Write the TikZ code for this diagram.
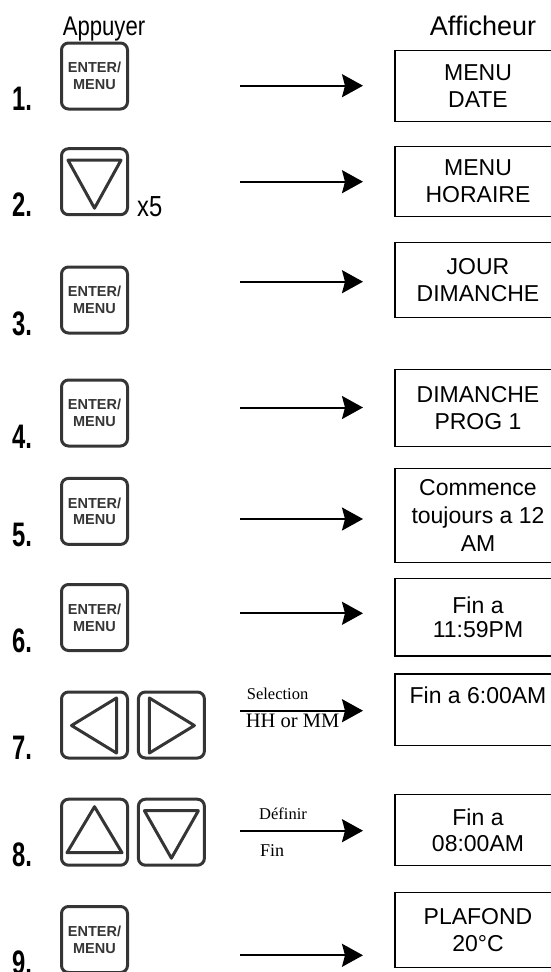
\documentclass[tikz,border=0pt]{standalone}
\usepackage{fontspec}
\setmainfont{Liberation Sans}
\newfontfamily\tms{Liberation Serif}
\usetikzlibrary{arrows.meta,calc}
\definecolor{btngray}{HTML}{353535}
\begin{document}
\begin{tikzpicture}[x=1pt,y=-1pt,
  btn/.style={draw=btngray, line width=3pt, rounded corners=7pt, minimum width=66pt, minimum height=66pt, inner sep=0pt},
  entertxt/.style={font=\fontsize{14.5}{16.7}\selectfont\bfseries, text=btngray, align=center},
  tri/.style={draw=btngray, line width=3pt, line join=round},
  disp/.style={draw=black, line width=1.3pt, minimum width=166pt, inner sep=0pt, align=center, font=\fontsize{23}{26.5}\selectfont},
  num/.style={anchor=base west, inner sep=0pt, font=\fontsize{34}{34}\selectfont\bfseries},
  arr/.style={line width=2pt, -{Stealth[length=21pt,width=23pt,inset=3pt]}},
  lbl/.style={anchor=base west, inner sep=0pt},
]
\useasboundingbox (0,0) rectangle (551,972);

% headers
\node[anchor=base, inner sep=0pt, font=\fontsize{27}{27}\selectfont] (happ) at (104,35) {\scalebox{0.82}[1]{Appuyer}};
\node[anchor=base, inner sep=0pt, font=\fontsize{27}{27}\selectfont] (haff) at (483,35) {Afficheur};

% step numbers
\node[num] (n1) at (12,110) {\scalebox{0.7}[1]{1.}};
\node[num] (n2) at (12,216.7) {\scalebox{0.7}[1]{2.}};
\node[num] (n3) at (12,335.4) {\scalebox{0.7}[1]{3.}};
\node[num] (n4) at (12,448) {\scalebox{0.7}[1]{4.}};
\node[num] (n5) at (12,546) {\scalebox{0.7}[1]{5.}};
\node[num] (n6) at (12,652) {\scalebox{0.7}[1]{6.}};
\node[num] (n7) at (12,759.3) {\scalebox{0.7}[1]{7.}};
\node[num] (n8) at (12,866.7) {\scalebox{0.7}[1]{8.}};
\node[num] (n9) at (12,974) {\scalebox{0.7}[1]{9.}};

% buttons
\node[btn, entertxt] (b1) at (94.5,76) {ENTER/\\MENU};
\node[btn] (b2) at (94.5,181.7) {};
\draw[tri] ($(b2.center)+(-26.5,-21.5)$) -- ($(b2.center)+(26.5,-21.5)$) -- ($(b2.center)+(0,26.5)$) -- cycle;
\node[lbl, font=\fontsize{29}{29}\selectfont] (x5) at (137,216.7) {\scalebox{0.82}[1]{x5}};
\node[btn, entertxt] (b3) at (94.5,300) {ENTER/\\MENU};
\node[btn, entertxt] (b4) at (94.5,413) {ENTER/\\MENU};
\node[btn, entertxt] (b5) at (94.5,511.4) {ENTER/\\MENU};
\node[btn, entertxt] (b6) at (94.5,617.5) {ENTER/\\MENU};
\node[btn] (b7l) at (94.5,725) {};
\draw[tri] ($(b7l.center)+(-23,0.5)$) -- ($(b7l.center)+(22,-27)$) -- ($(b7l.center)+(22,28)$) -- cycle;
\node[btn] (b7r) at (171.4,725) {};
\draw[tri] ($(b7r.center)+(-22,-27)$) -- ($(b7r.center)+(-22,28)$) -- ($(b7r.center)+(23,0.5)$) -- cycle;
\node[btn] (b8l) at (94.5,832.2) {};
\draw[tri] ($(b8l.center)+(0,-25.5)$) -- ($(b8l.center)+(-27.5,20.5)$) -- ($(b8l.center)+(27.5,20.5)$) -- cycle;
\node[btn] (b8r) at (171.4,832.2) {};
\draw[tri] ($(b8r.center)+(-27,-21.5)$) -- ($(b8r.center)+(27,-21.5)$) -- ($(b8r.center)+(0,26)$) -- cycle;
\node[btn, entertxt] (b9) at (94.5,939.5) {ENTER/\\MENU};

% displays
\node[disp, minimum height=70.7pt] (d1) at (478,86) {MENU\\DATE};
\node[disp, minimum height=70pt] (d2) at (478,181.4) {MENU\\HORAIRE};
\node[disp, minimum height=74.7pt] (d3) at (478,280) {JOUR\\DIMANCHE};
\node[disp, minimum height=77pt] (d4) at (478,408) {DIMANCHE\\PROG 1};
\node[disp, minimum height=94.3pt] (d5) at (478,515.5) {Commence\\[1.5pt]toujours a 12\\[1pt]AM};
\node[disp, minimum height=77.7pt] (d6) at (478,617.2) {Fin a\\[-3pt]11:59PM};
\node[disp, minimum height=71.4pt, text height=16.5pt, text depth=28pt] (d7) at (478,709.7) {Fin a 6:00AM};
\node[disp, minimum height=71pt] (d8) at (478,830.2) {Fin a\\08:00AM};
\node[disp, minimum height=75pt] (d9) at (478,930.2) {PLAFOND\\20°C};

% arrows
\coordinate (s1) at (240,85.7);  \coordinate (e1) at (363,85.7);
\coordinate (s2) at (240,181.7); \coordinate (e2) at (363,181.7);
\coordinate (s3) at (240,281.7); \coordinate (e3) at (363,281.7);
\coordinate (s4) at (240,407.5); \coordinate (e4) at (363,407.5);
\coordinate (s5) at (240,519);   \coordinate (e5) at (363,519);
\coordinate (s6) at (240,613.3); \coordinate (e6) at (363,613.3);
\coordinate (s7) at (240,710.7); \coordinate (e7) at (363,710.7);
\coordinate (s8) at (240,830.7); \coordinate (e8) at (363,830.7);
\coordinate (s9) at (240,955.3); \coordinate (e9) at (363,955.3);

% arrow labels
\node[lbl, font=\tms\fontsize{16.5}{16.5}\selectfont] (l7a) at (246.7,699.3) {Selection};
\node[lbl, font=\tms\fontsize{20.5}{20.5}\selectfont] (l7b) at (245.7,727.3) {HH or MM};
\node[lbl, font=\tms\fontsize{16.5}{16.5}\selectfont] (l8a) at (259,819) {Définir};
\node[lbl, font=\tms\fontsize{18}{18}\selectfont] (l8b) at (260,856) {Fin};

\foreach \i in {1,...,9} { \draw[arr] (s\i) -- (e\i); }
\end{tikzpicture}
\end{document}
